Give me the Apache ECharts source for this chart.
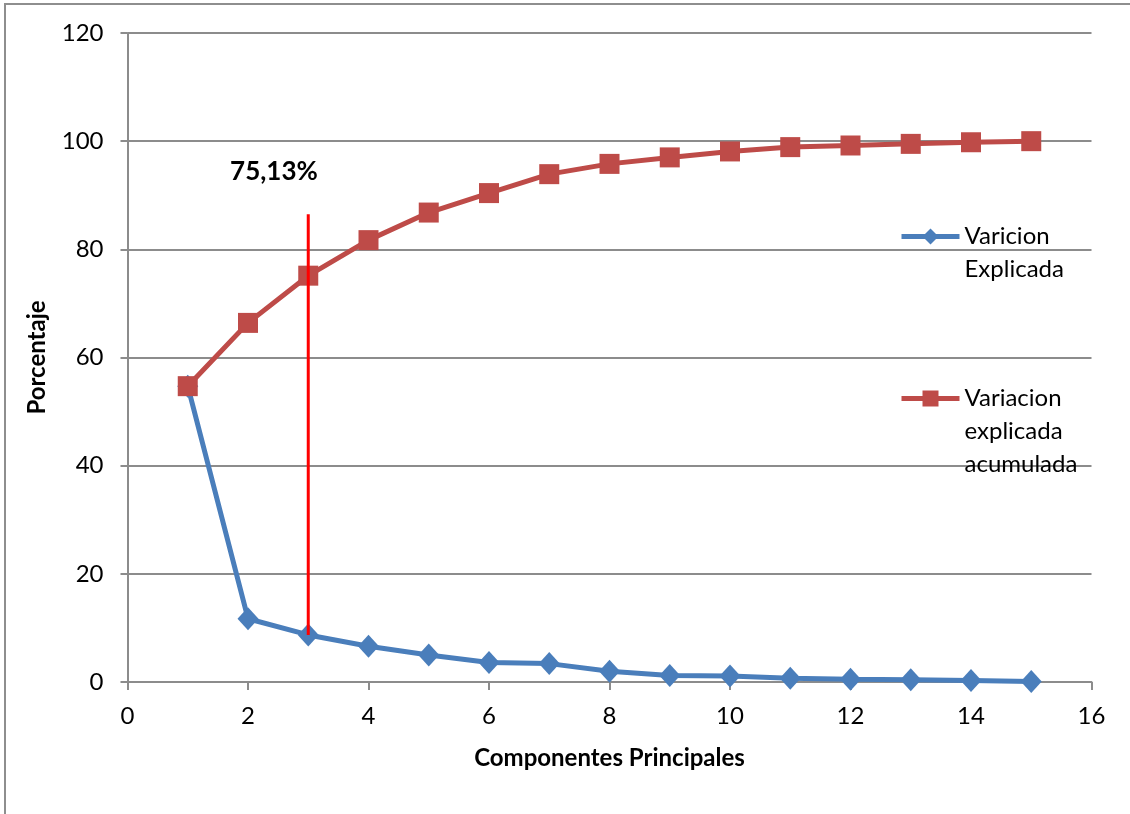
<!DOCTYPE html>
<html>
<head>
<meta charset="utf-8">
<style>
  html, body { margin: 0; padding: 0; background: #ffffff; }
  #chart { width: 1130px; height: 814px; }
</style>
<script src="https://cdn.jsdelivr.net/npm/echarts@6/dist/echarts.min.js"></script>
</head>
<body>
<div id="chart"></div>
<script>
// Principal components (x axis)
const components = [1, 2, 3, 4, 5, 6, 7, 8, 9, 10, 11, 12, 13, 14, 15];
// Explained variance per component (%)
const explained = [54.7, 11.7, 8.7, 6.6, 5.0, 3.6, 3.4, 2.0, 1.2, 1.1, 0.7, 0.5, 0.4, 0.3, 0.1];
// Cumulative explained variance (%)
const cumulative = [54.7, 66.4, 75.13, 81.7, 86.8, 90.4, 93.9, 95.8, 97.0, 98.1, 98.9, 99.2, 99.5, 99.8, 100];
// Cut-off marker at component 3
const cutComponent = 3;
const cutLineTop = 86.5;
const cutLabelPos = [2.43, 94.3];
const yTicks = [0, 20, 40, 60, 80, 100, 120];
const xTicks = [0, 2, 4, 6, 8, 10, 12, 14, 16];

const FONT = 'Lato';
const seriesNames = ['Varicion\nExplicada', 'Variacion\nexplicada\nacumulada'];
const LH = 33;

const chart = echarts.init(document.getElementById('chart'), null, { renderer: 'canvas' });

const cutIdx = components.indexOf(cutComponent);
const pctLabel = cumulative[cutIdx].toFixed(2).replace('.', ',') + '%';

// One legend per series; blank lines above keep the first text line level with the icon
function legendFor(name, top) {
  const lines = name.split('\n').length;
  return {
    data: [name],
    orient: 'vertical',
    left: 894,
    top: top,
    itemWidth: 58,
    itemHeight: 20,
    itemGap: 0,
    selectedMode: false,
    formatter: (n) => '\n'.repeat(lines - 1) + n,
    lineStyle: { width: 5 },
    textStyle: { fontFamily: FONT, fontSize: 24, color: '#000', lineHeight: LH }
  };
}

chart.setOption({
  animation: false,
  backgroundColor: '#ffffff',
  grid: { left: 127.5, right: 38.5, top: 33, bottom: 132 },
  graphic: [{
    type: 'rect',
    shape: { x: 5, y: 4, width: 1200, height: 900 },
    style: { fill: 'none', stroke: '#8e8e8e', lineWidth: 2 },
    silent: true, z: -1
  }],
  legend: [
    legendFor(seriesNames[0], 182),
    legendFor(seriesNames[1], 311)
  ],
  xAxis: {
    type: 'value',
    min: xTicks[0], max: xTicks[xTicks.length - 1], interval: 2,
    name: 'Componentes Principales',
    nameLocation: 'middle', nameGap: 64,
    nameTextStyle: { fontFamily: FONT, fontSize: 24, fontWeight: 'bold', color: '#000' },
    axisLine: { show: true, lineStyle: { color: '#8c8c8c', width: 2 } },
    axisTick: { show: true, length: 8, lineStyle: { color: '#8c8c8c', width: 2 } },
    axisLabel: { fontFamily: FONT, fontSize: 24, color: '#000', margin: 22 },
    splitLine: { show: false }
  },
  yAxis: {
    type: 'value',
    min: yTicks[0], max: yTicks[yTicks.length - 1], interval: 20,
    name: 'Porcentaje',
    nameLocation: 'middle', nameGap: 78, nameRotate: 90,
    nameTextStyle: { fontFamily: FONT, fontSize: 24, fontWeight: 'bold', color: '#000' },
    axisLine: { show: true, lineStyle: { color: '#8c8c8c', width: 2 } },
    axisTick: { show: true, length: 7, lineStyle: { color: '#8c8c8c', width: 2 } },
    axisLabel: { fontFamily: FONT, fontSize: 24, color: '#000', margin: 24 },
    splitLine: { show: true, lineStyle: { color: '#8c8c8c', width: 2 } }
  },
  series: [
    {
      name: seriesNames[0],
      type: 'line',
      data: components.map((c, i) => [c, explained[i]]),
      symbol: 'diamond', symbolSize: [21, 23],
      lineStyle: { color: '#4a7ebb', width: 5 },
      itemStyle: { color: '#4a7ebb' },
      z: 3
    },
    {
      name: seriesNames[1],
      type: 'line',
      data: components.map((c, i) => [c, cumulative[i]]),
      symbol: 'rect', symbolSize: 20,
      lineStyle: { color: '#be4b48', width: 5 },
      itemStyle: { color: '#be4b48' },
      z: 4
    },
    {
      name: 'corte',
      type: 'line',
      data: [[cutComponent, explained[cutIdx]], [cutComponent, cutLineTop]],
      symbol: 'none',
      lineStyle: { color: '#ff0000', width: 3 },
      z: 5
    },
    {
      name: 'etiqueta',
      type: 'scatter',
      data: [cutLabelPos],
      symbolSize: 0,
      itemStyle: { opacity: 1 },
      label: {
        show: true, position: 'inside', formatter: pctLabel,
        fontFamily: FONT, fontSize: 26, fontWeight: 'bold', color: '#000',
        textBorderWidth: 0, opacity: 1
      },
      z: 6
    }
  ]
});
</script>
</body>
</html>
